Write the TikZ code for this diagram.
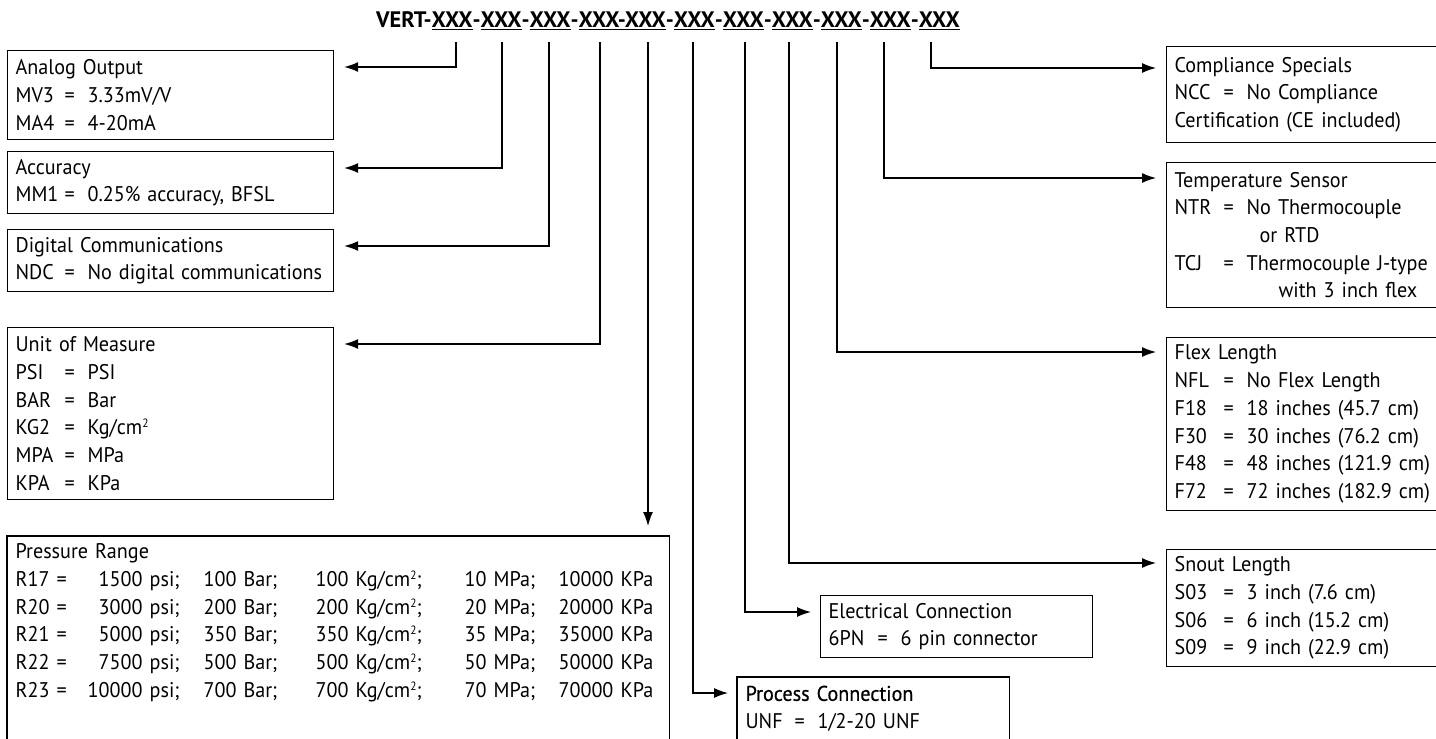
\documentclass[tikz,border=0pt]{standalone}
\usepackage{fontspec}
\setmainfont{PT Sans}[FakeStretch=0.95]
\newfontfamily\hdrfont{PT Sans}
\newfontfamily\medfont{PT Sans}[FakeStretch=0.95,FakeBold=0.6]
\usetikzlibrary{arrows.meta}
\newcommand\cd[2]{\mbox{\makebox[24.5pt][l]{#1}\makebox[11.5pt][l]{=}#2}}
\newcommand\sqr{\raisebox{3.6pt}{\fontsize{6}{6}\selectfont 2}}
\newcommand\prow[6]{\mbox{\makebox[20.5pt][l]{#1}\makebox[61.5pt][l]{=\hfill #2}\hspace{12pt}\makebox[56pt][l]{#3}\makebox[74.5pt][l]{#4}\makebox[47pt][l]{#5}#6}}
\newcommand\ul[1]{\leavevmode\setbox0\hbox{#1}\rlap{\rule[-1.6pt]{\wd0}{0.55pt}}\box0}
\begin{document}
\begin{tikzpicture}[x=0.5pt,y=-0.5pt,
  box/.style={draw=black, line width=0.6pt, anchor=north west, inner xsep=4pt, inner ysep=0pt, align=left, font=\fontsize{10.6}{13.85}\selectfont},
  openbox/.style={box, draw=none},
  frame/.style={draw=black, line width=0.6pt},
  conn/.style={draw=black, line width=0.6pt, -{Latex[length=7pt,width=5pt]}},
  hdr/.style={font=\hdrfont\fontsize{11.2}{13}\selectfont\bfseries, anchor=base, inner sep=0pt}]
\useasboundingbox (0,0) rectangle (1436,739);

\node[hdr] (code) at (668,27) {VERT-\ul{XXX}-\ul{XXX}-\ul{XXX}-\ul{XXX-XXX}-\ul{XXX}-\ul{XXX}-\ul{XXX}-\ul{XXX}-\ul{XXX}-\ul{XXX}};

\foreach \n/\x in {1/456,2/502,3/549,4/600,5/648,6/693,7/745,8/789,9/837,10/884,11/931}
  \coordinate (g\n) at (\x,42);

% left column
\node[box, text width=155pt, minimum height=44.5pt] (analog) at (7,50)
  {Analog Output\\ \cd{MV3}{3.33mV/V}\\ \cd{MA4}{4-20mA}};
\node[box, text width=155pt, minimum height=31pt] (acc) at (7,151)
  {Accuracy\\ \cd{MM1}{0.25\% accuracy, BFSL}};
\node[box, text width=155pt, minimum height=31pt] (dig) at (7,229)
  {Digital Communications\\ \cd{NDC}{No digital communications}};
\node[box, text width=155pt, minimum height=86pt] (unit) at (7,327)
  {Unit of Measure\\ \cd{PSI}{PSI}\\ \cd{BAR}{Bar}\\ \cd{KG2}{Kg/cm\sqr}\\ \cd{MPA}{MPa}\\ \cd{KPA}{KPa}};
\node[openbox, text width=322.5pt, minimum height=86.25pt] (press) at (7,536)
  {Pressure Range\\
   \prow{R17}{1500 psi;}{100 Bar;}{100 Kg/cm\sqr;}{10 MPa;}{10000 KPa}\\
   \prow{R20}{3000 psi;}{200 Bar;}{200 Kg/cm\sqr;}{20 MPa;}{20000 KPa}\\
   \prow{R21}{5000 psi;}{350 Bar;}{350 Kg/cm\sqr;}{35 MPa;}{35000 KPa}\\
   \prow{R22}{7500 psi;}{500 Bar;}{500 Kg/cm\sqr;}{50 MPa;}{50000 KPa}\\
   \prow{R23}{10000 psi;}{700 Bar;}{700 Kg/cm\sqr;}{70 MPa;}{70000 KPa}};
\draw[frame] ([yshift=-40pt]press.south west) -- (press.north west) -- (press.north east) -- ([yshift=-40pt]press.south east);

% middle
\node[box, text width=128pt, minimum height=31pt] (elec) at (820,595)
  {Electrical Connection\\ \cd{6PN}{6 pin connector}};
\node[openbox, text width=127.5pt, minimum height=31pt] (proc) at (737,677)
  {{\medfont Process Connection}\\ \cd{UNF}{1/2-20 UNF}};
\draw[frame] ([yshift=-30pt]proc.south west) -- (proc.north west) -- (proc.north east) -- ([yshift=-30pt]proc.south east);

% right column
\node[box, text width=132pt, minimum height=48pt] (compl) at (1166,46)
  {Compliance Specials\\ \cd{NCC}{No Compliance}\\ Certification (CE included)};
\node[box, text width=132pt, minimum height=72.5pt] (temp) at (1166,162)
  {Temperature Sensor\\ \cd{NTR}{No Thermocouple}\\ \hspace*{42.5pt}or RTD\\ \cd{TCJ}{Thermocouple J-type}\\ \hspace*{52pt}with 3 inch flex};
\node[box, text width=132pt, minimum height=86.5pt] (flex) at (1166,337)
  {Flex Length\\ \cd{NFL}{No Flex Length}\\ \cd{F18}{18 inches (45.7 cm)}\\ \cd{F30}{30 inches (76.2 cm)}\\ \cd{F48}{48 inches (121.9 cm)}\\ \cd{F72}{72 inches (182.9 cm)}};
\node[box, text width=132pt, minimum height=58.5pt] (snout) at (1166,549)
  {Snout Length\\ \cd{S03}{3 inch (7.6 cm)}\\ \cd{S06}{6 inch (15.2 cm)}\\ \cd{S09}{9 inch (22.9 cm)}};

% connectors
\draw[conn] (g1) |- ([shift={(5pt,-8.5pt)}]analog.north east);
\draw[conn] (g2) |- ([shift={(5pt,-8.5pt)}]acc.north east);
\draw[conn] (g3) |- ([shift={(5pt,-8.5pt)}]dig.north east);
\draw[conn] (g4) |- ([shift={(5pt,-8.5pt)}]unit.north east);
\draw[conn, shorten >=5pt] (g5) -- (g5 |- press.north);
\draw[conn] (g6) |- ([shift={(-4.5pt,-8pt)}]proc.north west);
\draw[conn] (g7) |- ([shift={(-4.5pt,-8.5pt)}]elec.north west);
\draw[conn] (g8) |- ([shift={(-5pt,-7pt)}]snout.north west);
\draw[conn] (g9) |- ([shift={(-5pt,-7.5pt)}]flex.north west);
\draw[conn] (g10) |- ([shift={(-5pt,-8pt)}]temp.north west);
\draw[conn] (g11) |- ([shift={(-5pt,-11pt)}]compl.north west);
\end{tikzpicture}
\end{document}
